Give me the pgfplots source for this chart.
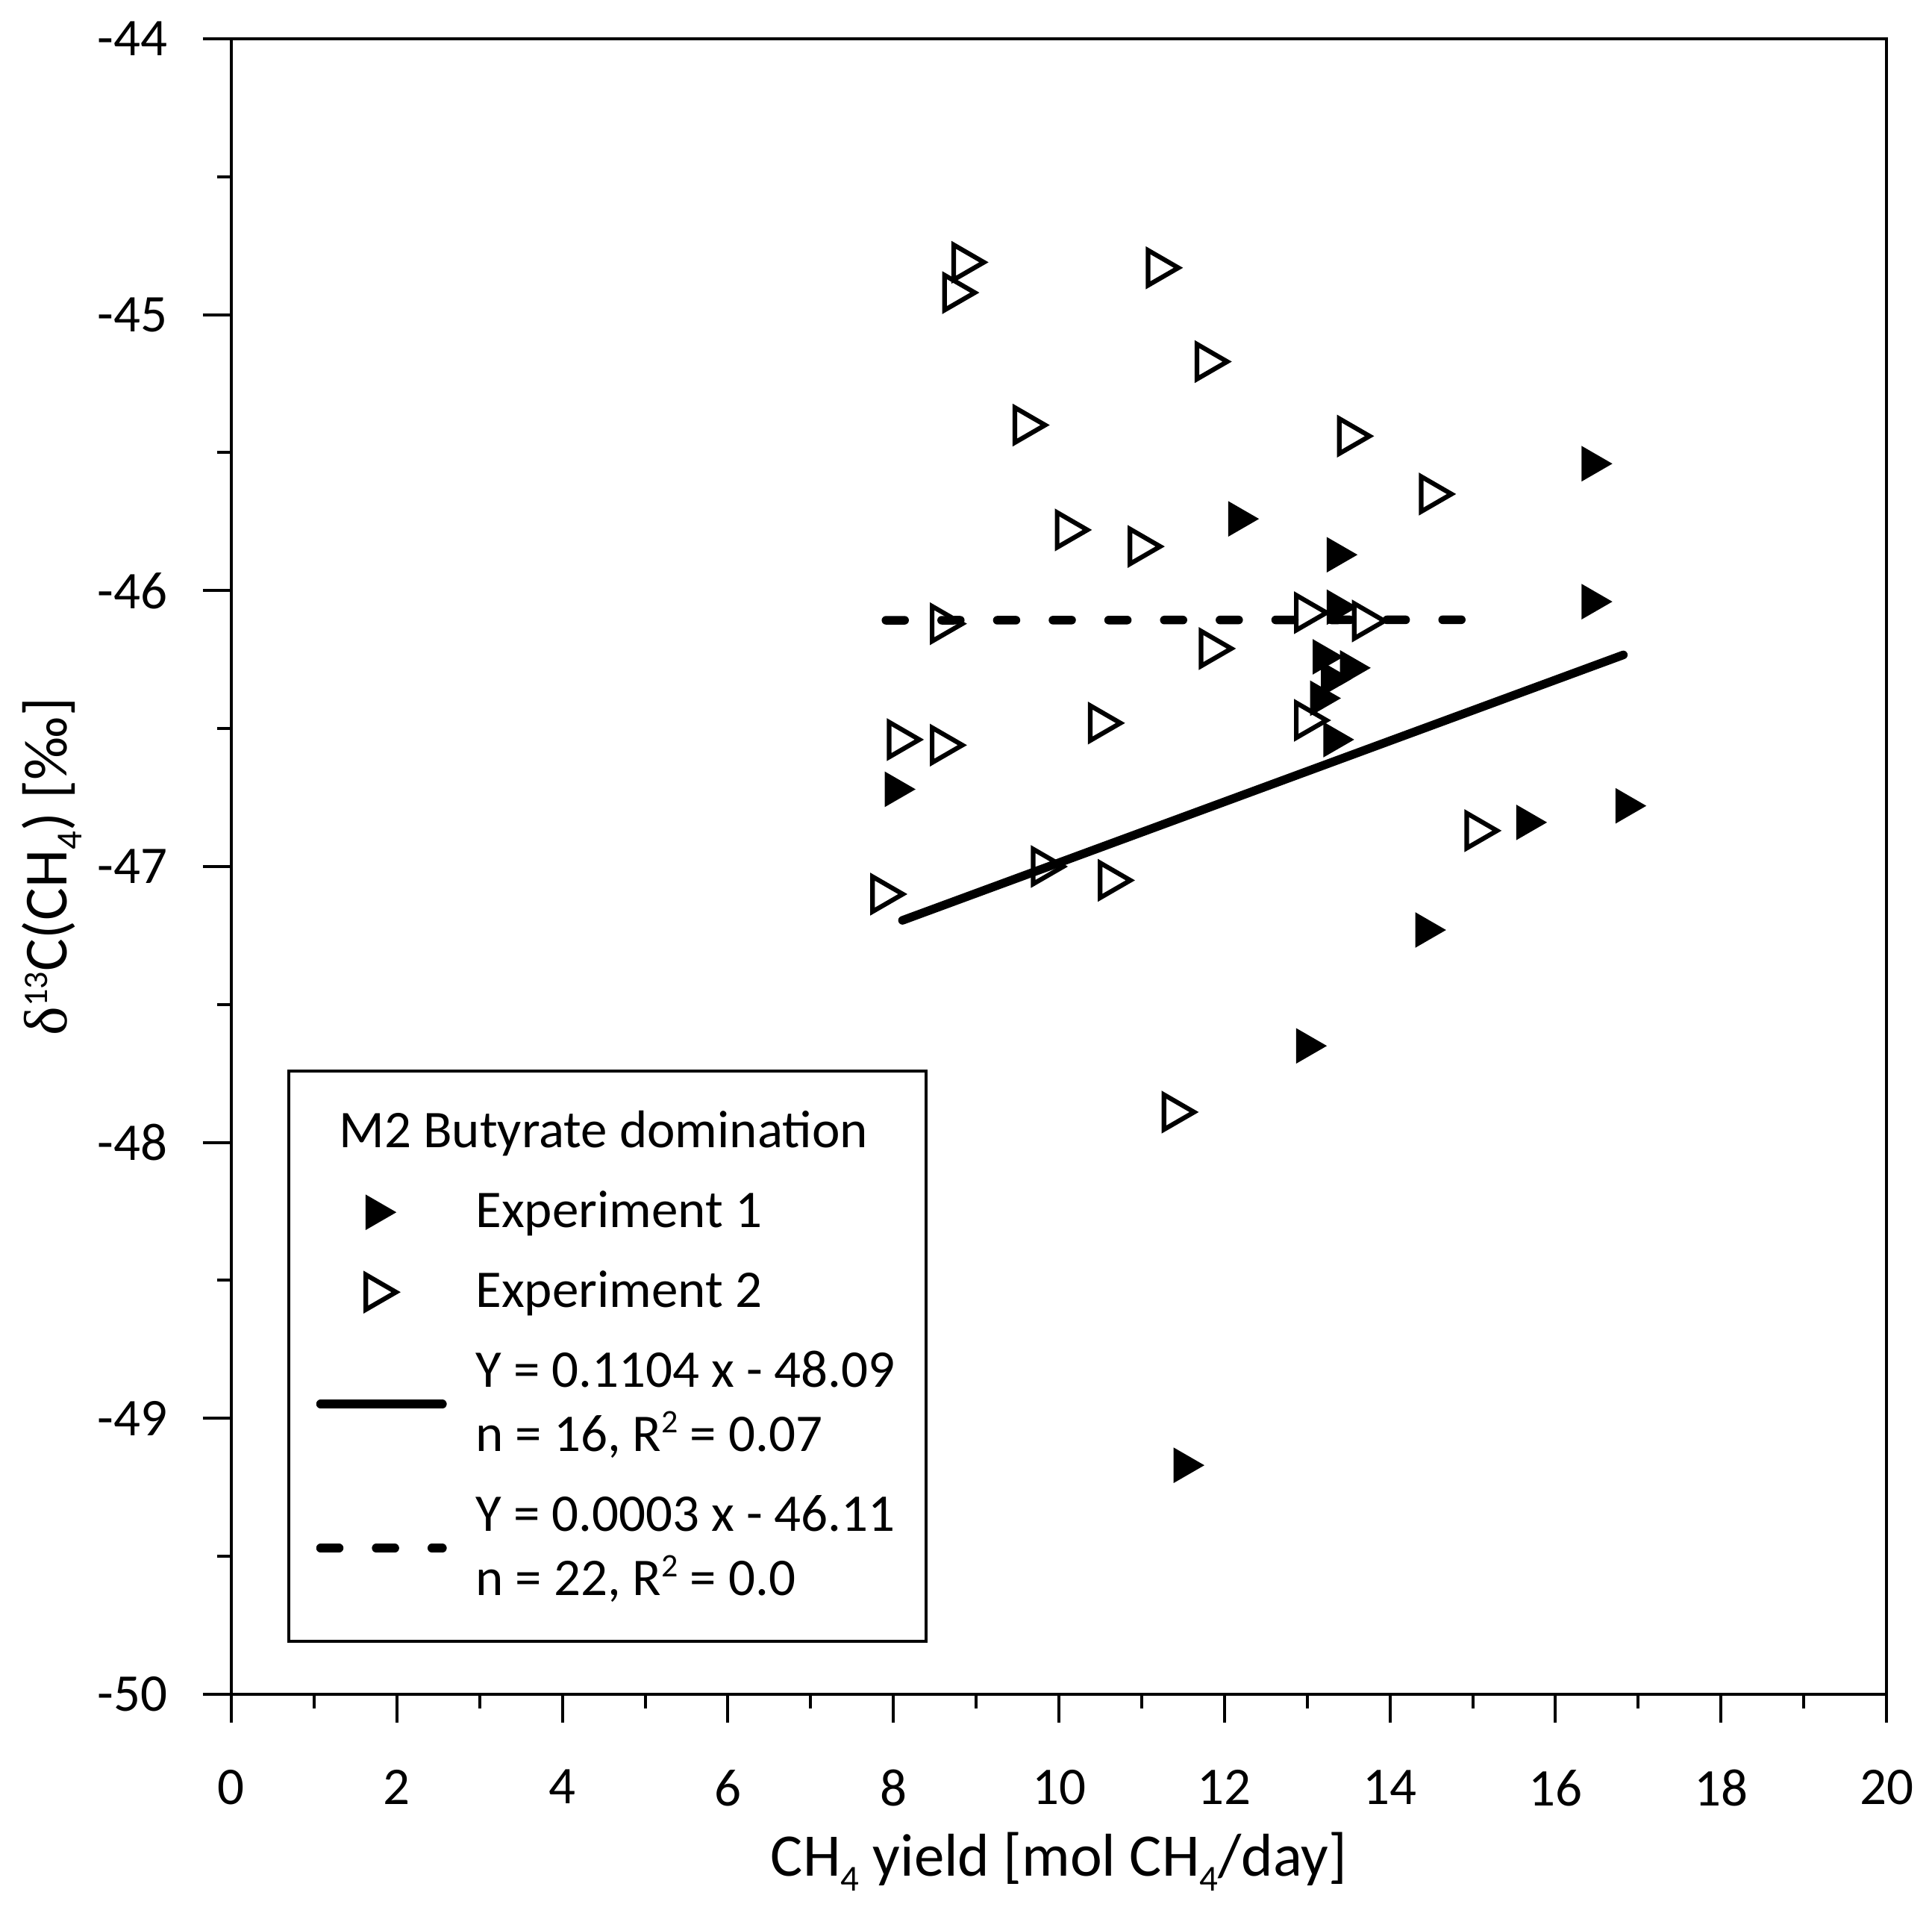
\documentclass[border=0pt]{standalone}
\usepackage{fontspec}
\setmainfont{Carlito}
\newfontfamily\serifgr{Liberation Serif}
\usepackage{pgfplots}
\pgfplotsset{compat=1.18}
\newcommand\lstr{\rule[-2.3pt]{0pt}{8.6pt}}
\newcommand\sbs[3]{\raisebox{#2}{\fontsize{#1}{#1}\selectfont #3}}
\begin{document}
\begin{tikzpicture}
\useasboundingbox (-31pt,-28.9pt) rectangle (227.9pt,227pt);
\begin{axis}[
  at={(0,0)}, anchor=south west,
  scale only axis, width=221.8pt, height=221.8pt,
  xmin=0, xmax=20, ymin=-50, ymax=-44,
  xtick={0,2,...,20}, ytick={-50,-49,...,-44},
  minor x tick num=1, minor y tick num=1,
  tick align=outside, tick pos=left,
  major tick length=3.8pt, minor tick length=1.9pt,
  tick style={black, line width=0.4pt},
  axis line style={line width=0.4pt},
  /pgf/number format/assume math mode=true,
  tick label style={font=\fontsize{7.1}{8.5}\selectfont},
  xticklabel style={yshift=-2.8pt},
  yticklabel style={xshift=-1.2pt},
  xlabel={CH\sbs{4.9pt}{-2pt}{4} yield [mol CH\sbs{4.9pt}{-2pt}{4}/day]},
  ylabel={{\serifgr δ}\sbs{4.6pt}{2.6pt}{13}C(CH\sbs{4.9pt}{-2pt}{4}) [‰]},
  every axis x label/.style={at={(axis description cs:0.5,-0.1096)}, anchor=base, font=\fontsize{8.1}{10}\selectfont},
  every axis y label/.style={at={(axis description cs:-0.0996,0.5)}, rotate=90, anchor=base, font=\fontsize{8.2}{10}\selectfont},
  legend cell align=left,
  legend style={
    at={(axis description cs:0.0338,0.031)}, anchor=south west,
    draw=black, line width=0.4pt, fill=white,
    inner xsep=3.1pt, inner ysep=3.9pt,
    row sep=2.1pt, column sep=3.3pt,
    font=\fontsize{7.1}{8.6}\selectfont,
    nodes={inner sep=0pt, text depth=, align=left},
  },
  mleg/.style={legend image code/.code={\path (0pt,0pt) (17.5pt,0pt); \draw[##1] plot coordinates {(8pt,0pt)};}},
  lleg/.style={legend image code/.code={\path (0pt,0pt) (17.5pt,0pt); \draw[##1] (0.58pt,0pt) -- (16.92pt,0pt);}},
]
\addlegendimage{empty legend}
\addlegendentry{\hspace*{-18.3pt}\lstr M2 Butyrate domination}

\addplot[only marks, mark=triangle*, mark size=2.45pt, mark options={rotate=-90, fill=black, draw=black, line width=0.3pt}, mleg] coordinates {
(16.44,-45.54) (12.17,-45.74) (13.36,-45.87) (16.44,-46.04)
(13.36,-46.06) (13.29,-46.32) (13.19,-46.24) (13.52,-46.28)
(13.16,-46.39) (13.32,-46.54) (8.02,-46.72) (15.65,-46.84)
(16.85,-46.78) (14.43,-47.23) (12.99,-47.65) (11.51,-49.17)
};
\addlegendentry{\lstr Experiment 1}

\addplot[only marks, mark=triangle, mark size=2.7pt, mark options={rotate=-90, draw=black, line width=0.62pt}, mleg] coordinates {
(8.85,-44.81) (8.74,-44.92) (11.20,-44.83) (11.79,-45.17)
(9.59,-45.40) (13.51,-45.44) (14.50,-45.65) (10.10,-45.78)
(10.98,-45.84) (8.59,-46.12) (12.99,-46.08) (13.69,-46.11)
(11.84,-46.21) (8.07,-46.54) (8.59,-46.56) (10.50,-46.48)
(12.99,-46.47) (15.05,-46.87) (9.81,-47.00) (10.62,-47.05)
(7.87,-47.10) (11.39,-47.89)
};
\addlegendentry{\lstr Experiment 2}

\addplot[black, line width=1.15pt, line cap=round, lleg] coordinates {(8.11,-47.195) (16.82,-46.233)};
\addlegendentry{\lstr Y = 0.1104 x - 48.09\hspace*{1pt}\\\lstr n = 16, R\sbs{4.4pt}{2.5pt}{2} = 0.07}

\addplot[black, line width=1.15pt, line cap=round, dash pattern=on 2.5pt off 4.96pt, lleg] coordinates {(7.91,-46.1076) (15.12,-46.1055)};
\addlegendentry{\lstr Y = 0.0003 x - 46.11\\\lstr n = 22, R\sbs{4.4pt}{2.5pt}{2} = 0.0}
\end{axis}
\end{tikzpicture}
\end{document}
